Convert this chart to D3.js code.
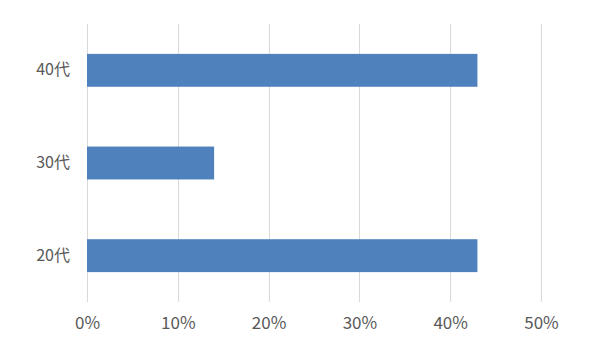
<!DOCTYPE html>
<html>
<head>
<meta charset="utf-8">
<script src="https://cdn.jsdelivr.net/npm/d3@7"></script>
<style>
  body { margin: 0; background: #fff; }
  text { font-family: "Noto Sans CJK JP", "Noto Sans", sans-serif; fill: #595959; }
</style>
</head>
<body>
<svg width="610" height="347"></svg>
<script>
// categories top to bottom
var categories = ["40代", "30代", "20代"];
var values = [0.43, 0.14, 0.43];
var ticks = [0, 0.1, 0.2, 0.3, 0.4, 0.5];

var svg = d3.select("svg"),
    margin = {top: 24, right: 69, bottom: 45, left: 87},
    w = +svg.attr("width") - margin.left - margin.right,
    h = +svg.attr("height") - margin.top - margin.bottom;

var x = d3.scaleLinear().domain([0, 0.5]).range([0, w]),
    y = d3.scaleBand().domain(categories).range([0, h]).paddingInner(0.645).paddingOuter(0.3225);

var g = svg.append("g")
    .attr("transform", "translate(" + margin.left + "," + margin.top + ")");

// gridlines
g.selectAll(".grid")
  .data(ticks)
  .enter().append("line")
    .attr("x1", function(d) { return Math.round(x(d)) + 0.5; })
    .attr("x2", function(d) { return Math.round(x(d)) + 0.5; })
    .attr("y1", 0)
    .attr("y2", h)
    .attr("stroke", "#d9d9d9")
    .attr("stroke-width", 1);

g.selectAll(".bar")
  .data(values)
  .enter().append("rect")
    .attr("x", x(0))
    .attr("y", function(d, i) { return y(categories[i]); })
    .attr("width", function(d) { return x(d); })
    .attr("height", y.bandwidth())
    .attr("fill", "#4f81bd");

var xAxis = d3.axisBottom(x).tickValues(ticks).tickFormat(d3.format(".0%")).tickSize(0).tickPadding(15);
var xg = g.append("g").attr("transform", "translate(0," + h + ")").call(xAxis);
xg.select(".domain").remove();
xg.selectAll("text").style("font-size", "17px");

var yAxis = d3.axisLeft(y).tickSize(0).tickPadding(17);
var yg = g.append("g").call(yAxis);
yg.select(".domain").remove();
yg.selectAll("text").style("font-size", "16px");
</script>
</body>
</html>
